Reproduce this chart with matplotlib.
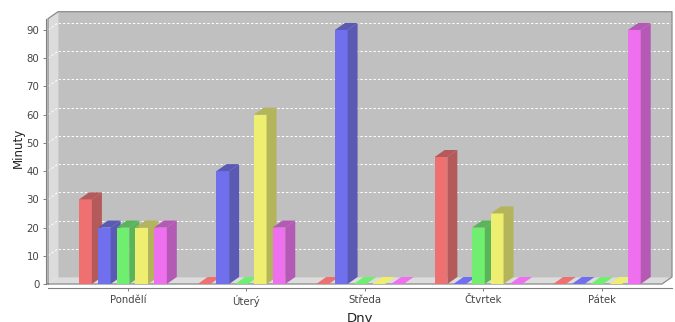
import matplotlib
matplotlib.use("Agg")
from matplotlib import pyplot as plt
from matplotlib.patches import Polygon

days = ["Pondělí", "Úterý", "Středa", "Čtvrtek", "Pátek"]
# minutes per day for each of the five series
series_values = [
    [30, 0, 0, 45, 0],
    [20, 40, 90, 0, 0],
    [20, 0, 0, 20, 0],
    [20, 60, 0, 25, 0],
    [20, 20, 0, 0, 90],
]
y_ticks = [0, 10, 20, 30, 40, 50, 60, 70, 80, 90]

front_colors = ["#EE7070", "#7070EE", "#70EE70", "#EEEE70", "#EE70EE"]
side_colors = ["#B45A5A", "#5A5AB4", "#5AB45A", "#B4B45A", "#B45AB4"]

# pseudo 3d geometry (JFreeChart look)
x_left, x_right = -0.633, 4.549
y_top = 94
dx, dy = 0.0844, 2.48
bar_w = 0.107
pitch = 0.158

fig = plt.figure(figsize=(6.75, 3.22), dpi=100)
ax = fig.add_axes([48 / 675, (322 - 284) / 322, 624 / 675, (284 - 11.7) / 322])
ax.set_xlim(x_left, x_right + dx)
ax.set_ylim(0, y_top + dy)
ax.set_facecolor("white")

wall = "#DCDCDC"
edge = "#8A8A8A"
# back wall, left wall, floor
ax.add_patch(Polygon([(x_left + dx, dy), (x_right + dx, dy), (x_right + dx, y_top + dy),
                      (x_left + dx, y_top + dy)], closed=True, fc="#C0C0C0", ec="none", zorder=0))
ax.add_patch(Polygon([(x_left, 0), (x_left, y_top), (x_left + dx, y_top + dy), (x_left + dx, dy)],
                     closed=True, fc=wall, ec="none", zorder=0.5))
ax.add_patch(Polygon([(x_left, 0), (x_right, 0), (x_right + dx, dy), (x_left + dx, dy)],
                     closed=True, fc=wall, ec="none", zorder=0.5))

for v in y_ticks[1:]:
    ax.plot([x_left + dx, x_right + dx], [v + dy, v + dy], color="white", lw=0.7,
            ls=(0, (2.5, 2)), zorder=0.6)
    ax.plot([x_left, x_left + dx], [v, v + dy], color="white", lw=0.7,
            ls=(0, (2.5, 2)), zorder=0.6)

ax.plot([x_left, x_left, x_left + dx, x_right + dx, x_right + dx, x_right, x_left],
        [0, y_top, y_top + dy, y_top + dy, dy, 0, 0], color=edge, lw=0.9, zorder=0.7,
        clip_on=False)
ax.plot([x_left + dx, x_left + dx, x_right + dx], [y_top + dy, dy, dy], color="#CFCFCF",
        lw=0.6, zorder=0.65)

z = 1
for i in range(len(days)):
    for j, vals in enumerate(series_values):
        v = vals[i]
        x0 = i + (j - 2) * pitch - bar_w / 2
        if v > 0:
            ax.bar(x0, v, width=bar_w, align="edge", color=front_colors[j], zorder=z)
            ax.add_patch(Polygon([(x0 + bar_w, 0), (x0 + bar_w, v), (x0 + bar_w + dx, v + dy),
                                  (x0 + bar_w + dx, dy)], closed=True, fc=side_colors[j],
                                 ec="none", zorder=z))
            top_color = side_colors[j]
        else:
            top_color = front_colors[j]
        ax.add_patch(Polygon([(x0, v), (x0 + bar_w, v), (x0 + bar_w + dx, v + dy), (x0 + dx, v + dy)],
                             closed=True, fc=top_color, ec="none", zorder=z))
        z += 1

for s in ["top", "right"]:
    ax.spines[s].set_visible(False)
ax.spines["left"].set_position(("outward", 1.8))
ax.spines["left"].set_bounds(0, y_top)
ax.spines["bottom"].set_position(("outward", 2.7))
ax.spines["bottom"].set_bounds(x_left, x_right + dx)
ax.spines["left"].set_color("#808080")
ax.spines["bottom"].set_color("#808080")

ax.set_yticks(y_ticks)
ax.set_xticks([i + dx / 2 for i in range(len(days))])
ax.set_xticklabels(days)
ax.tick_params(axis="y", length=2, width=0.7, color="#808080", pad=2.5, labelsize=7.3,
               labelcolor="#444444")
ax.tick_params(axis="x", length=2, width=0.7, color="#808080", pad=3.5, labelsize=7.3,
               labelcolor="#444444")

ax.set_ylabel("Minuty", fontsize=8.5, color="#222222")
ax.yaxis.set_label_coords(-0.048, 0.5)
ax.set_xlabel("Dny", fontsize=9.5, color="#222222")
ax.xaxis.set_label_coords(0.5, -0.125)
ax.xaxis.label.set_va("center")
ax.yaxis.label.set_va("center")

fig.savefig("out.png", dpi=100)
